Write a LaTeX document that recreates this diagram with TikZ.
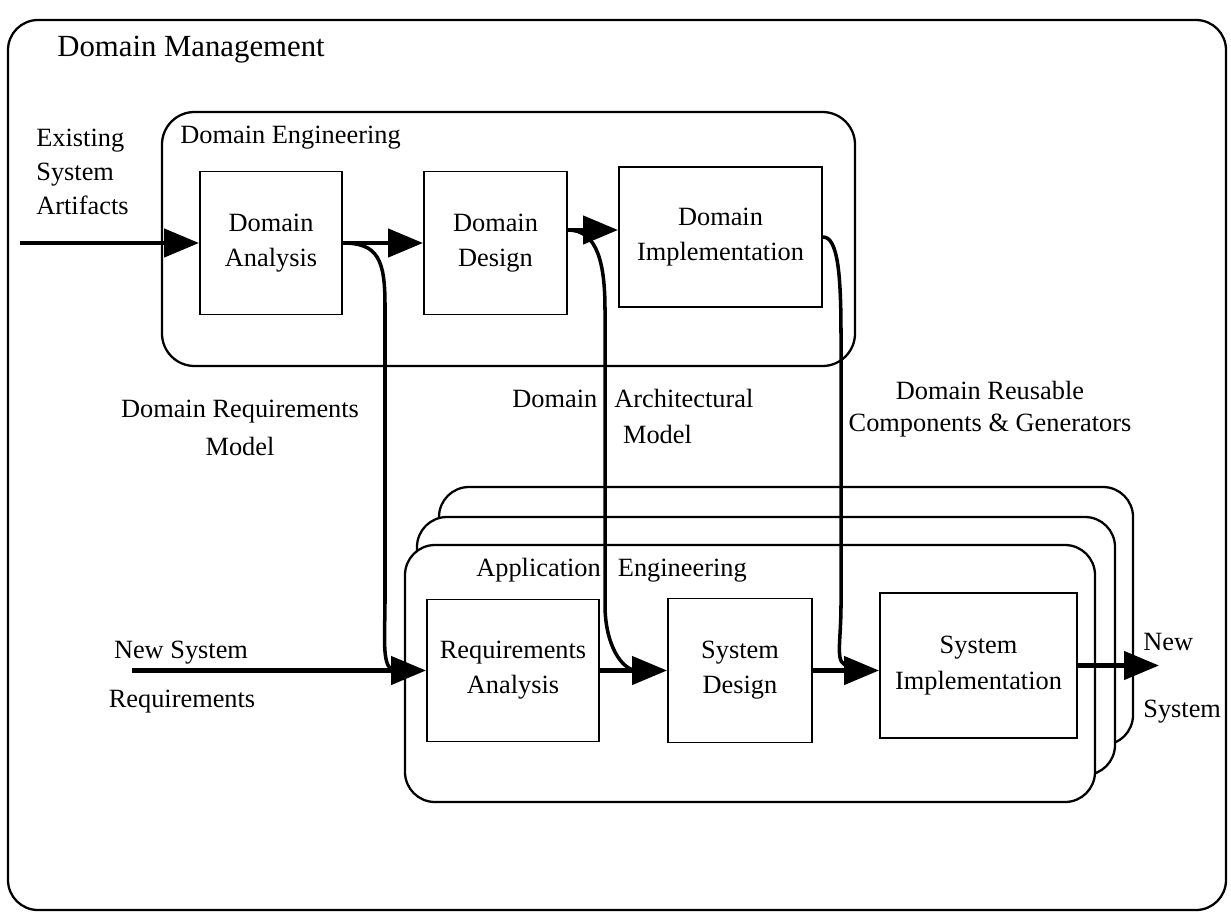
\documentclass[tikz,border=0pt]{standalone}
\usepackage{fontspec}
\setmainfont{Liberation Serif}
\usetikzlibrary{arrows.meta}

\begin{document}
\begin{tikzpicture}[
    lbl/.style={inner sep=0pt, font=\fontsize{15}{19.5}\selectfont},
    stage/.style={draw, line width=1.1pt, fill=white, align=center, inner sep=2pt,
      font=\fontsize{15}{20}\selectfont},
    group/.style={draw, line width=1.3pt, rounded corners=0.6cm},
    flow/.style={line width=2.6pt, -{Triangle[length=0.7cm,width=0.56cm]}},
    feed/.style={line width=2pt, rounded corners=0pt}
  ]
  \useasboundingbox (0,0) rectangle (24.62,-18.3);

  % outer and engineering frames
  \draw[group] (0.16,-0.4) rectangle (24.52,-18.2);
  \node[lbl, anchor=west, font=\fontsize{17.5}{21}\selectfont] (dmlbl) at (1.14,-1.0) {Domain Management};
  \draw[group, rounded corners=0.65cm] (3.24,-2.24) rectangle (17.1,-7.32);
  \node[lbl, anchor=west] (delbl) at (3.6,-2.76) {Domain Engineering};

  \draw[group, fill=white] (8.78,-9.74) rectangle (22.66,-14.9);
  \draw[group, fill=white] (8.34,-10.34) rectangle (22.3,-15.5);
  \draw[group, fill=white] (8.1,-10.9) rectangle (21.9,-16.04);
  \node[lbl, anchor=west] (aelbl) at (9.52,-11.4) {Application\hspace{0.65em}Engineering};

  % domain engineering steps
  \node[stage, minimum width=2.84cm, minimum height=2.86cm] (da) at (5.42,-4.86) {Domain\\Analysis};
  \node[stage, minimum width=2.86cm, minimum height=2.86cm] (dd) at (9.91,-4.86) {Domain\\Design};
  \node[stage, minimum width=4.06cm, minimum height=2.8cm] (di) at (14.41,-4.74) {Domain\\Implementation};

  % application engineering steps
  \node[stage, minimum width=3.44cm, minimum height=2.84cm] (ra) at (10.26,-13.41) {Requirements\\Analysis};
  \node[stage, minimum width=2.88cm, minimum height=2.88cm] (sd) at (14.8,-13.41) {System\\Design};
  \node[stage, minimum width=3.94cm, minimum height=2.9cm] (si) at (19.57,-13.31) {System\\Implementation};

  % free ends and bends
  \coordinate (esa) at (0.4,-4.86);
  \coordinate (nsr) at (2.64,-13.41);
  \coordinate (newsys) at (23.18,-13.31);
  \coordinate (ddout) at ([yshift=0.26cm]dd.east);
  \coordinate (drm1) at (7.7,-6.1);
  \coordinate (drm2) at (7.7,-12.0);
  \coordinate (dam1) at (12.1,-6.2);
  \coordinate (dam2) at (12.1,-12.1);
  \coordinate (drc1) at (16.82,-6.7);
  \coordinate (drc2) at (16.82,-12.1);

  % labels
  \node[lbl, anchor=west, align=left] (esalbl) at (0.72,-3.44) {Existing\\System\\Artifacts};
  \node[lbl, align=center, font=\fontsize{15}{22}\selectfont] (drmlbl) at (4.8,-8.56) {Domain Requirements\\Model};
  \node[lbl, anchor=west, align=left, font=\fontsize{15}{21}\selectfont] (damlbl) at (10.24,-8.33)
    {Domain\hspace{0.65em}Architectural\\\hspace*{4.2em}Model};
  \node[lbl, align=center, font=\fontsize{15}{18.5}\selectfont] (drclbl) at (19.8,-8.18)
    {Domain Reusable\\Components \& Generators};
  \node[lbl] (nsyslbl) at (3.62,-13.06) {New System};
  \node[lbl] (nreqlbl) at (3.64,-14.04) {Requirements};
  \node[lbl, anchor=west] (newlbl) at (22.86,-12.84) {New};
  \node[lbl, anchor=west] (syslbl) at (22.86,-14.24) {System};

  % flows
  \draw[flow] (esa) -- (da.west);
  \draw[flow] (da.east) -- (dd.west);
  \draw[flow] (ddout) -- (ddout -| di.west);
  \draw[flow] (nsr) -- (ra.west);
  \draw[flow] (ra.east) -- (sd.west);
  \draw[flow] (sd.east) -- (sd.east -| si.west);
  \draw[flow] (si.east) -- (newsys);

  \draw[feed] (da.east) .. controls ++(0.7,0) and ++(0,0.9) .. (drm1) -- (drm2)
    .. controls ++(0,-0.8) and ++(-0.3,0) .. ([xshift=-0.6cm]ra.west);
  \draw[feed] (ddout) .. controls ++(0.6,0) and ++(0,0.9) .. (dam1) -- (dam2)
    .. controls ++(0,-0.8) and ++(-0.3,0) .. ([xshift=-0.6cm]sd.west);
  \draw[feed] (di.east) .. controls ++(0.3,0) and ++(0,1.2) .. (drc1) -- (drc2)
    .. controls ++(0,-0.8) and ++(-0.3,0) .. ([xshift=-0.6cm]si.west);
\end{tikzpicture}
\end{document}
